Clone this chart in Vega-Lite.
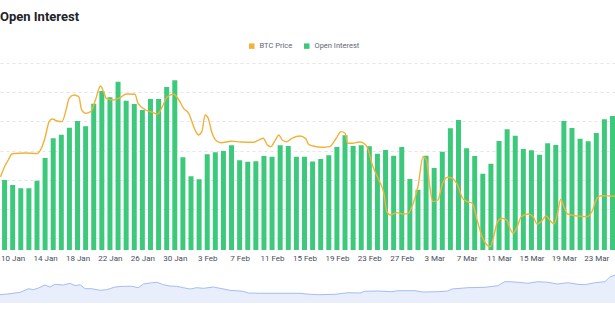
{
  "$schema": "https://vega.github.io/schema/vega-lite/v6.json",
  "padding": {"left": 0, "right": 0, "top": 11, "bottom": 0},
  "background": "white",
  "title": {"text": "Open Interest", "anchor": "start", "fontSize": 13, "fontWeight": "bold", "font": "Roboto", "color": "#1e2329", "offset": 18},
  "config": {"view": {"stroke": null}, "concat": {"spacing": 11}, "font": "Roboto"},
  "datasets": {
    "oi": [
      {"t": "2025-01-09", "oi": 44.95}, {"t": "2025-01-10", "oi": 44.09}, {"t": "2025-01-11", "oi": 43.52},
      {"t": "2025-01-12", "oi": 43.52}, {"t": "2025-01-13", "oi": 44.83}, {"t": "2025-01-14", "oi": 48.72},
      {"t": "2025-01-15", "oi": 52.09}, {"t": "2025-01-16", "oi": 52.71}, {"t": "2025-01-17", "oi": 53.91},
      {"t": "2025-01-18", "oi": 55.06}, {"t": "2025-01-19", "oi": 54.15}, {"t": "2025-01-20", "oi": 58.02},
      {"t": "2025-01-21", "oi": 60.2}, {"t": "2025-01-22", "oi": 59.12}, {"t": "2025-01-23", "oi": 61.8},
      {"t": "2025-01-24", "oi": 58.54}, {"t": "2025-01-25", "oi": 57.97}, {"t": "2025-01-26", "oi": 56.94},
      {"t": "2025-01-27", "oi": 58.83}, {"t": "2025-01-28", "oi": 58.83}, {"t": "2025-01-29", "oi": 60.89},
      {"t": "2025-01-30", "oi": 62.03}, {"t": "2025-01-31", "oi": 48.84}, {"t": "2025-02-01", "oi": 45.58},
      {"t": "2025-02-02", "oi": 45.07}, {"t": "2025-02-03", "oi": 49.35}, {"t": "2025-02-04", "oi": 49.69},
      {"t": "2025-02-05", "oi": 49.92}, {"t": "2025-02-06", "oi": 50.89}, {"t": "2025-02-07", "oi": 48.32},
      {"t": "2025-02-08", "oi": 48.08}, {"t": "2025-02-09", "oi": 48.15}, {"t": "2025-02-10", "oi": 49.06},
      {"t": "2025-02-11", "oi": 48.94}, {"t": "2025-02-12", "oi": 50.89}, {"t": "2025-02-13", "oi": 50.77},
      {"t": "2025-02-14", "oi": 48.94}, {"t": "2025-02-15", "oi": 48.94}, {"t": "2025-02-16", "oi": 48.12},
      {"t": "2025-02-17", "oi": 48.55}, {"t": "2025-02-18", "oi": 49.18}, {"t": "2025-02-19", "oi": 50.6},
      {"t": "2025-02-20", "oi": 52.61}, {"t": "2025-02-21", "oi": 50.77}, {"t": "2025-02-22", "oi": 50.89},
      {"t": "2025-02-23", "oi": 50.72}, {"t": "2025-02-24", "oi": 49.45}, {"t": "2025-02-25", "oi": 50.09},
      {"t": "2025-02-26", "oi": 49.11}, {"t": "2025-02-27", "oi": 50.6}, {"t": "2025-02-28", "oi": 45.12},
      {"t": "2025-03-01", "oi": 43.28}, {"t": "2025-03-02", "oi": 49.11}, {"t": "2025-03-03", "oi": 47.0},
      {"t": "2025-03-04", "oi": 49.8}, {"t": "2025-03-05", "oi": 53.81}, {"t": "2025-03-06", "oi": 55.23},
      {"t": "2025-03-07", "oi": 50.38}, {"t": "2025-03-08", "oi": 49.06}, {"t": "2025-03-09", "oi": 46.03},
      {"t": "2025-03-10", "oi": 47.74}, {"t": "2025-03-11", "oi": 51.63}, {"t": "2025-03-12", "oi": 53.64},
      {"t": "2025-03-13", "oi": 52.54}, {"t": "2025-03-14", "oi": 50.26}, {"t": "2025-03-15", "oi": 50.04},
      {"t": "2025-03-16", "oi": 49.28}, {"t": "2025-03-17", "oi": 51.24}, {"t": "2025-03-18", "oi": 50.95},
      {"t": "2025-03-19", "oi": 55.06}, {"t": "2025-03-20", "oi": 53.86}, {"t": "2025-03-21", "oi": 52.03},
      {"t": "2025-03-22", "oi": 51.58}, {"t": "2025-03-23", "oi": 53.0}, {"t": "2025-03-24", "oi": 55.35},
      {"t": "2025-03-25", "oi": 55.92}
    ],
    "price": [
      {"t": "2025-01-08T12:00:00Z", "price": 90.5},
      {"t": "2025-01-09T01:00:00Z", "price": 92.38}, {"t": "2025-01-09T11:00:00Z", "price": 93.4},
      {"t": "2025-01-09T21:00:00Z", "price": 94.43}, {"t": "2025-01-10T06:00:00Z", "price": 94.51},
      {"t": "2025-01-11T12:00:00Z", "price": 94.6}, {"t": "2025-01-13T01:00:00Z", "price": 94.51},
      {"t": "2025-01-13T07:00:00Z", "price": 94.82}, {"t": "2025-01-13T22:00:00Z", "price": 96.83},
      {"t": "2025-01-14T12:00:00Z", "price": 99.96}, {"t": "2025-01-14T21:00:00Z", "price": 100.42},
      {"t": "2025-01-15T12:00:00Z", "price": 100.08}, {"t": "2025-01-16T02:00:00Z", "price": 99.96},
      {"t": "2025-01-16T14:00:00Z", "price": 101.96}, {"t": "2025-01-16T23:00:00Z", "price": 103.96},
      {"t": "2025-01-17T13:00:00Z", "price": 104.52}, {"t": "2025-01-18T04:00:00Z", "price": 104.23},
      {"t": "2025-01-18T12:00:00Z", "price": 101.96}, {"t": "2025-01-19T00:00:00Z", "price": 101.39},
      {"t": "2025-01-19T15:00:00Z", "price": 101.67}, {"t": "2025-01-20T05:00:00Z", "price": 103.67},
      {"t": "2025-01-20T20:00:00Z", "price": 106.06}, {"t": "2025-01-21T05:00:00Z", "price": 105.09},
      {"t": "2025-01-21T13:00:00Z", "price": 103.96}, {"t": "2025-01-22T10:00:00Z", "price": 103.67},
      {"t": "2025-01-23T06:00:00Z", "price": 104.06}, {"t": "2025-01-24T00:00:00Z", "price": 104.7},
      {"t": "2025-01-25T02:00:00Z", "price": 104.64}, {"t": "2025-01-25T11:00:00Z", "price": 103.1},
      {"t": "2025-01-26T10:00:00Z", "price": 101.96}, {"t": "2025-01-27T06:00:00Z", "price": 101.56},
      {"t": "2025-01-27T21:00:00Z", "price": 101.24}, {"t": "2025-01-28T11:00:00Z", "price": 102.52},
      {"t": "2025-01-29T02:00:00Z", "price": 104.23}, {"t": "2025-01-29T21:00:00Z", "price": 104.64},
      {"t": "2025-01-30T12:00:00Z", "price": 103.67}, {"t": "2025-01-31T02:00:00Z", "price": 102.25},
      {"t": "2025-01-31T17:00:00Z", "price": 101.39}, {"t": "2025-02-01T12:00:00Z", "price": 98.54},
      {"t": "2025-02-01T22:00:00Z", "price": 97.68}, {"t": "2025-02-02T08:00:00Z", "price": 98.25},
      {"t": "2025-02-02T18:00:00Z", "price": 101.1}, {"t": "2025-02-03T03:00:00Z", "price": 100.54},
      {"t": "2025-02-03T13:00:00Z", "price": 98.25}, {"t": "2025-02-04T04:00:00Z", "price": 96.66},
      {"t": "2025-02-04T18:00:00Z", "price": 96.36}, {"t": "2025-02-05T23:00:00Z", "price": 96.6},
      {"t": "2025-02-07T04:00:00Z", "price": 96.48}, {"t": "2025-02-08T18:00:00Z", "price": 96.43},
      {"t": "2025-02-09T09:00:00Z", "price": 96.83}, {"t": "2025-02-09T22:00:00Z", "price": 97.12},
      {"t": "2025-02-10T10:00:00Z", "price": 95.97}, {"t": "2025-02-10T20:00:00Z", "price": 95.68},
      {"t": "2025-02-11T10:00:00Z", "price": 96.83}, {"t": "2025-02-11T20:00:00Z", "price": 97.68},
      {"t": "2025-02-12T06:00:00Z", "price": 96.83}, {"t": "2025-02-12T20:00:00Z", "price": 96.53},
      {"t": "2025-02-13T11:00:00Z", "price": 97.12}, {"t": "2025-02-14T11:00:00Z", "price": 97.51},
      {"t": "2025-02-15T03:00:00Z", "price": 97.1}, {"t": "2025-02-15T12:00:00Z", "price": 96.1},
      {"t": "2025-02-16T01:00:00Z", "price": 95.8}, {"t": "2025-02-17T06:00:00Z", "price": 95.58},
      {"t": "2025-02-18T02:00:00Z", "price": 95.68}, {"t": "2025-02-18T22:00:00Z", "price": 97.12},
      {"t": "2025-02-19T12:00:00Z", "price": 98.25}, {"t": "2025-02-20T00:00:00Z", "price": 97.97},
      {"t": "2025-02-20T08:00:00Z", "price": 96.26}, {"t": "2025-02-20T22:00:00Z", "price": 96.26},
      {"t": "2025-02-21T18:00:00Z", "price": 96.48}, {"t": "2025-02-22T08:00:00Z", "price": 96.26},
      {"t": "2025-02-22T18:00:00Z", "price": 95.58}, {"t": "2025-02-23T09:00:00Z", "price": 92.55},
      {"t": "2025-02-24T04:00:00Z", "price": 89.99}, {"t": "2025-02-24T19:00:00Z", "price": 87.71},
      {"t": "2025-02-25T04:00:00Z", "price": 84.56}, {"t": "2025-02-25T14:00:00Z", "price": 83.99},
      {"t": "2025-02-26T09:00:00Z", "price": 84.39}, {"t": "2025-02-27T05:00:00Z", "price": 84.16},
      {"t": "2025-02-27T19:00:00Z", "price": 84.28}, {"t": "2025-02-28T10:00:00Z", "price": 85.99},
      {"t": "2025-03-01T00:00:00Z", "price": 88.83}, {"t": "2025-03-01T15:00:00Z", "price": 93.97},
      {"t": "2025-03-02T01:00:00Z", "price": 93.4}, {"t": "2025-03-02T11:00:00Z", "price": 88.83},
      {"t": "2025-03-02T20:00:00Z", "price": 86.27}, {"t": "2025-03-03T11:00:00Z", "price": 86.56},
      {"t": "2025-03-04T01:00:00Z", "price": 89.42}, {"t": "2025-03-04T16:00:00Z", "price": 90.44},
      {"t": "2025-03-05T06:00:00Z", "price": 90.27}, {"t": "2025-03-05T21:00:00Z", "price": 89.13},
      {"t": "2025-03-06T12:00:00Z", "price": 86.85}, {"t": "2025-03-07T02:00:00Z", "price": 86.27},
      {"t": "2025-03-07T17:00:00Z", "price": 85.99}, {"t": "2025-03-08T07:00:00Z", "price": 83.14},
      {"t": "2025-03-08T22:00:00Z", "price": 80.28}, {"t": "2025-03-09T12:00:00Z", "price": 78.86},
      {"t": "2025-03-09T22:00:00Z", "price": 78.57}, {"t": "2025-03-10T08:00:00Z", "price": 80.28},
      {"t": "2025-03-10T18:00:00Z", "price": 82.57}, {"t": "2025-03-11T08:00:00Z", "price": 83.43},
      {"t": "2025-03-11T23:00:00Z", "price": 83.14}, {"t": "2025-03-12T08:00:00Z", "price": 81.72},
      {"t": "2025-03-12T18:00:00Z", "price": 80.86}, {"t": "2025-03-13T04:00:00Z", "price": 81.72},
      {"t": "2025-03-13T18:00:00Z", "price": 83.7}, {"t": "2025-03-14T14:00:00Z", "price": 84.16},
      {"t": "2025-03-15T05:00:00Z", "price": 83.7}, {"t": "2025-03-15T17:00:00Z", "price": 82.45},
      {"t": "2025-03-16T05:00:00Z", "price": 82.85}, {"t": "2025-03-16T19:00:00Z", "price": 83.82},
      {"t": "2025-03-17T10:00:00Z", "price": 82.85}, {"t": "2025-03-17T19:00:00Z", "price": 82.45},
      {"t": "2025-03-18T05:00:00Z", "price": 84.28}, {"t": "2025-03-18T15:00:00Z", "price": 86.68},
      {"t": "2025-03-19T00:00:00Z", "price": 85.41}, {"t": "2025-03-19T11:00:00Z", "price": 84.16},
      {"t": "2025-03-20T16:00:00Z", "price": 83.82}, {"t": "2025-03-21T21:00:00Z", "price": 83.7},
      {"t": "2025-03-22T11:00:00Z", "price": 84.56}, {"t": "2025-03-23T02:00:00Z", "price": 86.85},
      {"t": "2025-03-23T16:00:00Z", "price": 87.29}, {"t": "2025-03-24T17:00:00Z", "price": 87.24},
      {"t": "2025-03-25T12:00:00Z", "price": 87.2}
    ],
    "nav": [
      {"t": "2025-01-09T01:00:00Z", "v": 8.3}, {"t": "2025-01-10T06:00:00Z", "v": 9.3}, {"t": "2025-01-11T12:00:00Z", "v": 10.7},
      {"t": "2025-01-12T12:00:00Z", "v": 14.3}, {"t": "2025-01-13T02:00:00Z", "v": 13.3}, {"t": "2025-01-13T17:00:00Z", "v": 15},
      {"t": "2025-01-14T12:00:00Z", "v": 18}, {"t": "2025-01-15T03:00:00Z", "v": 16}, {"t": "2025-01-15T17:00:00Z", "v": 18.7},
      {"t": "2025-01-16T18:00:00Z", "v": 18}, {"t": "2025-01-17T13:00:00Z", "v": 19.7}, {"t": "2025-01-18T04:00:00Z", "v": 17.3},
      {"t": "2025-01-18T18:00:00Z", "v": 18.3}, {"t": "2025-01-19T09:00:00Z", "v": 14.3}, {"t": "2025-01-20T04:00:00Z", "v": 14.3},
      {"t": "2025-01-21T05:00:00Z", "v": 12.7}, {"t": "2025-01-22T00:00:00Z", "v": 13.3}, {"t": "2025-01-23T00:00:00Z", "v": 16},
      {"t": "2025-01-24T00:00:00Z", "v": 16.7}, {"t": "2025-01-25T01:00:00Z", "v": 16.7}, {"t": "2025-01-25T20:00:00Z", "v": 15.3},
      {"t": "2025-01-26T11:00:00Z", "v": 19}, {"t": "2025-01-27T06:00:00Z", "v": 20}, {"t": "2025-01-28T02:00:00Z", "v": 20.7},
      {"t": "2025-01-28T21:00:00Z", "v": 18.3}, {"t": "2025-01-29T16:00:00Z", "v": 17}, {"t": "2025-01-30T12:00:00Z", "v": 16.7},
      {"t": "2025-01-31T07:00:00Z", "v": 15.3}, {"t": "2025-02-01T03:00:00Z", "v": 14}, {"t": "2025-02-01T22:00:00Z", "v": 15.3},
      {"t": "2025-02-02T18:00:00Z", "v": 14.7}, {"t": "2025-02-03T23:00:00Z", "v": 16}, {"t": "2025-02-04T18:00:00Z", "v": 14.7},
      {"t": "2025-02-05T23:00:00Z", "v": 12.7}, {"t": "2025-02-07T14:00:00Z", "v": 11.7}, {"t": "2025-02-08T05:00:00Z", "v": 10},
      {"t": "2025-02-09T15:00:00Z", "v": 9.7}, {"t": "2025-02-12T01:00:00Z", "v": 9.7}, {"t": "2025-02-14T11:00:00Z", "v": 9.7},
      {"t": "2025-02-15T16:00:00Z", "v": 8.7}, {"t": "2025-02-16T16:00:00Z", "v": 8.3}, {"t": "2025-02-18T17:00:00Z", "v": 8.7},
      {"t": "2025-02-20T07:00:00Z", "v": 10.3}, {"t": "2025-02-21T18:00:00Z", "v": 10}, {"t": "2025-02-22T08:00:00Z", "v": 11.7},
      {"t": "2025-02-23T22:00:00Z", "v": 12}, {"t": "2025-02-25T15:00:00Z", "v": 11.3}, {"t": "2025-02-26T08:00:00Z", "v": 12.3},
      {"t": "2025-02-28T10:00:00Z", "v": 12.3}, {"t": "2025-03-01T09:00:00Z", "v": 11}, {"t": "2025-03-03T05:00:00Z", "v": 11.3},
      {"t": "2025-03-04T10:00:00Z", "v": 12}, {"t": "2025-03-04T22:00:00Z", "v": 14}, {"t": "2025-03-06T20:00:00Z", "v": 15.3},
      {"t": "2025-03-08T22:00:00Z", "v": 15.7}, {"t": "2025-03-10T12:00:00Z", "v": 17.3}, {"t": "2025-03-11T08:00:00Z", "v": 21.3},
      {"t": "2025-03-11T23:00:00Z", "v": 21.3}, {"t": "2025-03-12T22:00:00Z", "v": 20.7}, {"t": "2025-03-14T03:00:00Z", "v": 19.7},
      {"t": "2025-03-15T08:00:00Z", "v": 21.3}, {"t": "2025-03-16T13:00:00Z", "v": 20.7}, {"t": "2025-03-17T18:00:00Z", "v": 19},
      {"t": "2025-03-19T00:00:00Z", "v": 20.3}, {"t": "2025-03-20T05:00:00Z", "v": 18.7}, {"t": "2025-03-21T01:00:00Z", "v": 18.3},
      {"t": "2025-03-22T06:00:00Z", "v": 20.3}, {"t": "2025-03-23T12:00:00Z", "v": 21.3}, {"t": "2025-03-24T02:00:00Z", "v": 26},
      {"t": "2025-03-24T17:00:00Z", "v": 28}
    ]
  },
  "vconcat": [
    {
      "width": 615,
      "height": 187,
      "encoding": {
        "x": {
          "field": "t", "type": "temporal",
          "scale": {"type": "utc", "domain": [
            {"year": 2025, "month": 1, "date": 9, "hours": 1, "minutes": 16, "utc": true},
            {"year": 2025, "month": 3, "date": 24, "hours": 16, "minutes": 34, "utc": true}
          ]},
          "axis": {
            "title": null, "grid": false, "domain": false, "ticks": false,
            "labelFontSize": 8, "labelColor": "#474d57", "labelPadding": 4, "labelFlush": true,
            "labelExpr": "utcFormat(datum.value, '%-d %b')",
            "values": [
              {"year": 2025, "month": 1, "date": 10, "utc": true},
              {"year": 2025, "month": 1, "date": 14, "utc": true},
              {"year": 2025, "month": 1, "date": 18, "utc": true},
              {"year": 2025, "month": 1, "date": 22, "utc": true},
              {"year": 2025, "month": 1, "date": 26, "utc": true},
              {"year": 2025, "month": 1, "date": 30, "utc": true},
              {"year": 2025, "month": 2, "date": 3, "utc": true},
              {"year": 2025, "month": 2, "date": 7, "utc": true},
              {"year": 2025, "month": 2, "date": 11, "utc": true},
              {"year": 2025, "month": 2, "date": 15, "utc": true},
              {"year": 2025, "month": 2, "date": 19, "utc": true},
              {"year": 2025, "month": 2, "date": 23, "utc": true},
              {"year": 2025, "month": 2, "date": 27, "utc": true},
              {"year": 2025, "month": 3, "date": 3, "utc": true},
              {"year": 2025, "month": 3, "date": 7, "utc": true},
              {"year": 2025, "month": 3, "date": 11, "utc": true},
              {"year": 2025, "month": 3, "date": 15, "utc": true},
              {"year": 2025, "month": 3, "date": 19, "utc": true},
              {"year": 2025, "month": 3, "date": 23, "utc": true}
            ]
          }
        }
      },
      "layer": [
        {
          "data": {"name": "oi"},
          "mark": {"type": "bar", "width": 5, "clip": true},
          "encoding": {
            "y": {
              "field": "oi", "type": "quantitative",
              "scale": {"domain": [32.95, 65], "nice": false, "zero": false},
              "axis": {"values": [35, 40, 45, 50, 55, 60, 65], "labels": false, "ticks": false, "domain": false, "title": null, "grid": true, "gridDash": [3, 3], "gridColor": "#e3e5e8"}
            },
            "color": {
              "datum": "Open Interest", "type": "nominal",
              "scale": {"domain": ["BTC Price", "Open Interest"], "range": ["#f2b23a", "#3dc97b"]},
              "legend": {
                "title": null, "orient": "none", "direction": "horizontal", "legendX": 248, "legendY": -21,
                "symbolType": "square", "symbolSize": 30, "symbolStrokeWidth": 0,
                "labelFontSize": 7.5, "labelColor": "#5e6673", "labelOffset": 4, "columnPadding": 10,
                "encode": {"symbols": {"update": {"fill": {"scale": "color", "field": "value"}, "fillOpacity": {"value": 1}, "strokeWidth": {"value": 0}}}}
              }
            }
          }
        },
        {
          "data": {"name": "price"},
          "mark": {"type": "line", "interpolate": "monotone", "strokeWidth": 1.4, "clip": true},
          "encoding": {
            "y": {"field": "price", "type": "quantitative", "scale": {"domain": [78, 110], "nice": false, "zero": false}, "axis": null},
            "color": {"datum": "BTC Price", "type": "nominal"}
          }
        }
      ],
      "resolve": {"scale": {"y": "independent"}}
    },
    {
      "width": 615,
      "height": 30,
      "data": {"name": "nav"},
      "mark": {"type": "area", "color": "#e8eefc", "opacity": 1, "line": {"color": "#a7bdf1", "strokeWidth": 1}, "clip": true},
      "encoding": {
        "x": {
          "field": "t", "type": "temporal", "axis": null,
          "scale": {"type": "utc", "domain": [
            {"year": 2025, "month": 1, "date": 9, "hours": 1, "minutes": 0, "utc": true},
            {"year": 2025, "month": 3, "date": 24, "hours": 17, "minutes": 0, "utc": true}
          ]}
        },
        "y": {"field": "v", "type": "quantitative", "scale": {"domain": [0, 30], "nice": false}, "axis": null}
      }
    }
  ],
  "resolve": {"scale": {"x": "independent"}}
}
